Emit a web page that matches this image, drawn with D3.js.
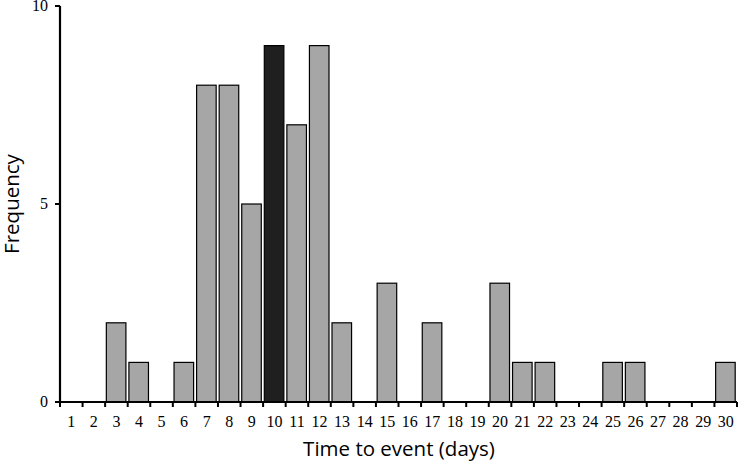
<!DOCTYPE html>
<html><head><meta charset="utf-8">
<script src="https://cdn.jsdelivr.net/npm/d3@7"></script>
<style>body{margin:0;background:#fff}</style>
</head><body>
<svg id="c" width="738" height="462"></svg>
<script>
const days = d3.range(1, 31);
const freq = [0,0,2,1,0,1,8,8,5,9,7,9,2,0,3,0,2,0,0,3,1,1,0,0,1,1,0,0,0,1];
const highlightDay = 10;
const yTicks = [0,5,10];
const xTitle = "Time to event (days)";
const yTitle = "Frequency";

(function(){
const svg = d3.select("#c");
const mLeft = 60, mRight = 737, mTop = 6, mBottom = 402;
const x = d3.scaleBand().domain(days).range([mLeft, mRight]).paddingInner(0).paddingOuter(0);
const y = d3.scaleLinear().domain([0,10]).range([mBottom, mTop]);
const step = x.step();

svg.selectAll("rect.bar").data(days).enter().append("rect")
  .attr("x", d => x(d) + 1.2)
  .attr("width", step - 3)
  .attr("y", (d,i) => y(freq[i]))
  .attr("height", (d,i) => y(0) - y(freq[i]))
  .attr("fill", d => d === highlightDay ? "#1f1f1f" : "#a6a6a6")
  .attr("stroke", "#000").attr("stroke-width", 1.2)
  .style("display", (d,i) => freq[i] > 0 ? null : "none");

// x axis
const boundaries = days.map(d => x(d)).concat([mRight]);
svg.append("line").attr("x1", mLeft).attr("x2", mRight).attr("y1", mBottom).attr("y2", mBottom).attr("stroke","#000").attr("stroke-width",2.2);
svg.selectAll("line.xt").data(boundaries).enter().append("line")
  .attr("x1", d=>d).attr("x2", d=>d).attr("y1", mBottom).attr("y2", mBottom+5).attr("stroke","#000").attr("stroke-width",2);
svg.selectAll("text.xl").data(days).enter().append("text")
  .attr("x", d => x(d) + step/2).attr("y", 427)
  .attr("text-anchor","middle")
  .attr("font-family","'Liberation Serif', serif").attr("font-size",16)
  .text(d=>d);

// y axis
svg.append("line").attr("x1", mLeft).attr("x2", mLeft).attr("y1", mTop).attr("y2", mBottom+1).attr("stroke","#000").attr("stroke-width",2.2);
svg.selectAll("line.yt").data(yTicks).enter().append("line")
  .attr("x1", mLeft-5).attr("x2", mLeft).attr("y1", d=>y(d)).attr("y2", d=>y(d)).attr("stroke","#000").attr("stroke-width",2);
svg.selectAll("text.yl").data(yTicks).enter().append("text")
  .attr("x", 48).attr("y", d=>y(d)+5)
  .attr("text-anchor","end")
  .attr("font-family","'Liberation Serif', serif").attr("font-size",16)
  .text(d=>d);

svg.append("text").attr("x", 399).attr("y", 456).attr("text-anchor","middle")
  .attr("font-family","'Open Sans', sans-serif").attr("font-size",20.5).text(xTitle);
svg.append("text").attr("transform","translate(19,204) rotate(-90)").attr("text-anchor","middle")
  .attr("font-family","'Open Sans', sans-serif").attr("font-size",20.5).text(yTitle);
})();
</script>
</body></html>
